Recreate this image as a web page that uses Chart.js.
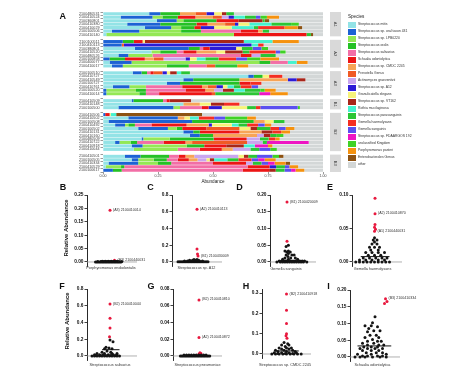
<!DOCTYPE html>
<html>
<head>
<meta charset="utf-8">
<script src="https://cdn.jsdelivr.net/npm/chart.js@4.4.0/dist/chart.umd.min.js"></script>
<style>
  body { margin: 0; background: #fff; font-family: 'Liberation Sans', Arial, sans-serif; }
  #page { position: relative; width: 474px; height: 375px; overflow: hidden; background: #fff; }
  #page canvas, .txt { position: absolute; }
  .txt { white-space: nowrap; color: #222; line-height: 1; }
</style>
</head>
<body>
<div id="page"></div>
<script>
// ---------- Panel A data ----------
const species = [
  'Streptococcus mitis', 'Streptococcus sp. oral taxon 431', 'Streptococcus sp. LPB0220',
  'Streptococcus oralis', 'Streptococcus salivarius', 'Schaalia odontolytica',
  'Streptococcus sp. CMDC 2245', 'Prevotella Genus', 'Actinomyces graevenitzii',
  'Streptococcus sp. A12', 'Granulicatella elegans', 'Streptococcus sp. VT162',
  'Rothia mucilaginosa', 'Streptococcus parasanguinis', 'Gemella haemolysans',
  'Gemella sanguinis', 'Streptococcus sp. FDAARGOS 192', 'unclassified Kingdom',
  'Porphyromonas pasteri', 'Enterobacterales Genus', 'other'
];
const speciesColors = [
  '#93e3e6', '#1c62d4', '#93e855', '#25c125', '#f26ea6', '#ec1515', '#f7a457',
  '#f05a24', '#c9a6ef', '#2c1ad6', '#f7f37a', '#a8261a', '#45f2cf', '#2bc535',
  '#f42e22', '#5a4ff0', '#ee15c3', '#3fd225', '#f5920f', '#8d5212', '#d3d7d7'
];
const OTHER = 20;

const groupNames = ['A1', 'A2', 'A3', 'B1', 'B2', 'B3'];

const samplesA1 = ['2100480531', '2100410524', '2100360801', '2100410380', '2100410029', '2100100506', '2100410140'];
const samplesA2 = ['2100100511', '2100410113', '2100380801', '2100410520', '2100480526', '2100100858', '2100400077', '2100410017'];
const samplesA3 = ['2100100510', '2100410727', '2100410549', '2100100727', '2100410761', '2100100520', '2100410014'];
const samplesB1 = ['2100410509', '2100410148', '2100100500'];
const samplesB2 = ['2100410506', '2100410502', '2100100508', '2100410492', '2100100502', '2100410131', '2100410160', '2100480509', '2100410722', '2100410918', '2100410044'];
const samplesB3 = ['2100410501', '2100100505', '2100410334', '2100410529', '2100100617'];

// each row: [species index, abundance] pairs, the rest is "other"
const rowsA1 = [
  [[0,.21],[1,.05],[3,.09],[6,.07],[7,.05],[9,.035],[10,.035],[11,.02],[13,.035]],
  [[0,.08],[1,.145],[2,.045],[3,.07],[5,.08],[6,.08],[7,.04],[8,.03],[9,.025],[12,.05],[13,.05],[15,.02],[17,.03],[18,.055]],
  [[0,.245],[1,.09],[2,.03],[3,.15],[5,.1],[11,.11],[13,.01],[19,.02]],
  [[0,.11],[1,.15],[3,.165],[5,.05],[6,.08],[7,.045],[9,.015],[10,.05],[12,.1],[13,.09],[17,.035]],
  [[0,.19],[1,.12],[2,.045],[3,.06],[5,.03],[9,.06],[10,.08],[12,.1],[13,.02],[14,.12],[18,.06],[19,.02]],
  [[0,.04],[1,.125],[2,.19],[3,.09],[4,.18],[5,.08],[6,.02],[13,.03]],
  [[0,.015],[2,.58],[5,.33],[13,.02],[19,.01]]
];
const rowsA2 = [
  [[1,.09],[3,.05],[5,.04],[10,.01],[11,.45],[12,.13],[18,.12]],
  [[1,.085],[7,.01],[9,.58],[12,.03],[14,.025]],
  [[0,.145],[1,.245],[3,.05],[4,.015],[5,.03],[9,.12],[10,.025],[13,.05],[15,.04],[17,.03]],
  [[0,.22],[2,.04],[3,.075],[4,.03],[5,.06],[6,.09],[10,.04],[11,.08],[13,.03],[14,.12],[15,.02],[17,.025]],
  [[0,.07],[1,.045],[2,.11],[4,.4],[5,.05],[8,.04],[13,.07]],
  [[1,.03],[3,.07],[5,.09],[6,.04],[7,.045],[8,.1],[9,.02],[10,.03],[12,.04],[13,.06],[14,.08],[15,.05],[17,.06],[18,.085]],
  [[0,.03],[1,.1],[2,.58],[3,.05],[4,.08],[12,.04],[18,.05]],
  [[0,.04],[1,.05],[2,.2],[3,.1],[4,.08],[7,.04],[13,.1],[18,.05]]
];
const rowsA3 = [
  [[0,.135],[1,.04],[3,.025],[4,.015],[5,.015],[7,.04],[9,.02],[10,.015],[11,.03],[12,.02],[13,.04]],
  [[0,.66],[1,.025],[3,.04],[10,.03],[14,.06]],
  [[0,.365],[1,.045],[3,.21],[6,.22],[9,.04],[11,.04]],
  [[0,.29],[1,.06],[3,.27],[5,.05],[14,.05]],
  [[0,.045],[1,.075],[2,.075],[4,.165],[5,.09],[6,.025],[7,.04],[9,.03],[10,.02],[12,.03],[13,.03],[14,.05],[15,.03]],
  [[1,.015],[2,.135],[3,.045],[4,.18],[5,.09],[6,.04],[8,.04],[11,.05],[12,.05],[13,.07],[17,.02],[18,.05]],
  [[1,.015],[2,.15],[3,.03],[4,.06],[5,.24],[7,.015],[13,.2],[16,.05],[18,.08]]
];
const rowsB1 = [
  [[0,.13],[1,.008],[3,.135],[4,.015],[5,.015],[11,.097]],
  [[0,.365],[6,.075],[10,.05],[11,.06],[14,.07]],
  [[0,.07],[1,.25],[2,.03],[4,.1],[5,.03],[9,.06],[10,.115],[13,.04],[14,.02],[15,.17],[17,.01]]
];
const rowsB2 = [
  [[1,.01],[5,.02],[10,.005],[12,.025],[19,.39]],
  [[0,.115],[1,.225],[6,.03],[10,.025],[12,.04],[14,.07],[15,.05],[17,.1],[18,.04]],
  [[0,.025],[1,.38],[3,.28],[6,.05],[10,.04],[13,.05]],
  [[0,.055],[1,.045],[2,.015],[3,.03],[4,.075],[5,.16],[6,.1],[9,.015],[10,.09],[12,.03],[13,.04],[14,.05],[15,.03],[18,.03]],
  [[0,.16],[1,.135],[2,.04],[3,.025],[5,.11],[7,.15],[10,.05],[11,.03],[13,.06],[14,.04],[15,.03],[18,.04]],
  [[0,.365],[1,.045],[3,.03],[5,.18],[6,.1],[11,.05],[14,.04],[18,.04]],
  [[0,.395],[1,.045],[3,.06],[6,.2],[8,.03],[11,.03],[13,.03],[17,.03]],
  [[0,.175],[1,.008],[2,.12],[3,.2],[5,.15],[8,.06],[13,.04],[14,.03],[18,.02]],
  [[0,.055],[1,.02],[2,.05],[3,.03],[4,.12],[5,.1],[6,.03],[7,.25],[8,.07],[13,.02],[16,.19]],
  [[0,.13],[1,.05],[2,.2],[3,.08],[5,.1],[11,.08],[12,.05],[16,.06],[18,.02]],
  [[0,.14],[2,.2],[4,.1],[5,.1],[6,.05],[8,.08],[13,.04],[15,.05],[17,.03]]
];
const rowsB3 = [
  [[0,.1],[1,.07],[3,.13],[4,.045],[5,.03],[6,.04],[8,.2],[10,.025],[11,.02],[13,.04],[15,.07],[17,.03],[19,.02]],
  [[0,.13],[1,.03],[2,.07],[3,.06],[4,.05],[5,.05],[6,.04],[8,.04],[10,.015],[11,.02],[12,.06],[13,.05],[14,.06],[15,.03],[16,.03],[18,.05]],
  [[0,.025],[1,.135],[2,.09],[3,.06],[4,.19],[5,.15],[8,.03],[13,.04],[15,.03],[16,.03],[18,.05],[19,.02]],
  [[0,.012],[2,.07],[3,.015],[4,.56],[5,.1],[9,.03],[13,.04],[15,.02],[18,.04]],
  [[1,.045],[3,.04],[4,.55],[5,.12],[11,.03],[13,.04],[15,.03],[16,.02],[18,.04]]
];
const abundanceTicks = [0, 0.25, 0.5, 0.75, 1];

// ---------- Panels B-I data: [x jitter, relative abundance] ----------
const dotSpecies = ['Porphyromonas endodontalis', 'Streptococcus sp. A12', 'Gemella sanguinis', 'Gemella haemolysans',
  'Streptococcus salivarius', 'Streptococcus pneumoniae', 'Streptococcus sp. CMDC 2245', 'Schaalia odontolytica'];

const ticksB = ['0.00', '0.05', '0.10', '0.15', '0.20', '0.25'];
const blackB = [[-0.66,0],[-0.60,0],[-0.54,0],[-0.48,0],[-0.42,0],[-0.36,0],[-0.30,0],[-0.24,0],[-0.18,0],[-0.12,0],[-0.06,0],[0,0],[0.06,0],[0.12,0],[0.18,0],[0.24,0],[0.30,0],[0.36,0],
  [-0.57,.0015],[-0.45,.0015],[-0.33,.0015],[-0.21,.0015],[-0.09,.0015],[0.03,.0015],[0.15,.0015],[0.27,.0015],[0.39,.0015],
  [-0.39,.003],[-0.27,.003],[-0.15,.003],[-0.03,.003],[0.09,.003],[0.21,.003]];
const redB = [[-0.08,.193,'(A3) 2100410014'],[0.1,.006,'(A3) 2100440031']];
const medianB = [0, -0.62, 0.42];

const ticksC = ['0.0', '0.2', '0.4', '0.6', '0.8'];
const blackC = [[-0.76,.003],[-0.70,.003],[-0.64,.003],[-0.58,.003],[-0.52,.003],[-0.46,.003],[-0.40,.003],[-0.34,.003],[-0.28,.003],[-0.22,.003],[-0.16,.003],[-0.10,.003],[-0.04,.003],[0.02,.003],[0.08,.003],[0.14,.003],[0.20,.003],[0.26,.003],[0.32,.003],[0.38,.003],[0.44,.003],
  [-0.5,.012],[-0.38,.012],[-0.26,.012],[-0.14,.012],[-0.02,.012],[0.1,.012],[0.22,.012],
  [-0.3,.022],[-0.18,.022],[-0.06,.022],[0.06,.022],[-0.12,.03],[0,.03]];
const redC = [[0,.63,'(A2) 2100410113'],[0,.155,''],[0.02,.095,''],[0.04,.07,'(B1) 2100430009']];
const medianC = [0.005, -0.7, 0.4];

const ticksD = ['0.00', '0.05', '0.10', '0.15', '0.20'];
const blackD = [[-0.2,.05],[-0.3,.046],[-0.35,.033],[-0.2,.033],[-0.27,.03],[-0.12,.03],[-0.2,.025],[-0.3,.021],[-0.05,.021],[0.05,.021],[-0.22,.016],
  [-0.35,.012],[-0.1,.012],[0.1,.012],[-0.45,.008],[-0.2,.008],[0.2,.008],
  [-0.6,.003],[-0.5,.003],[-0.4,.003],[-0.3,.003],[-0.2,.003],[-0.1,.003],[0,.003],[0.1,.003],[0.2,.003],[0.3,.003],[0.4,.003],[0.5,.003],
  [-0.7,0],[-0.55,0],[-0.45,0],[-0.35,0],[-0.25,0],[-0.15,0],[-0.05,0],[0.05,0],[0.15,0],[0.25,0],[0.35,0],[0.45,0],[0.6,0]];
const redD = [[-0.26,.179,'(B1) 2100420009'],[-0.26,.062,'']];
const medianD = [0.003, -0.55, 0.55];

const ticksE = ['0.00', '0.05', '0.10'];
const blackE = [[-0.1,.036],[-0.15,.033],[0,.033],[-0.1,.03],[-0.2,.027],[0,.027],[-0.3,.022],[-0.1,.022],[0.1,.022],[-0.25,.018],[0.05,.018],
  [-0.45,.014],[-0.2,.014],[0.05,.014],[0.3,.014],[-0.35,.01],[-0.1,.01],[0.15,.01],
  [-0.55,.006],[-0.3,.006],[-0.05,.006],[0.2,.006],[0.4,.006],[-0.7,.003],[-0.45,.003],[-0.2,.003],[0.05,.003],[0.3,.003],
  [-0.85,0],[-0.7,0],[-0.55,0],[-0.4,0],[-0.25,0],[-0.1,0],[0.05,0],[0.2,0],[0.35,0],[0.5,0]];
const redE = [[-0.08,.095,''],[-0.08,.072,'(A2) 2100410870'],[-0.08,.056,''],[-0.1,.052,''],[-0.06,.049,''],[-0.1,.046,'(A1) 2100440031']];
const medianE = [0.008, -0.65, 0.5];

const ticksF = ['0.0', '0.2', '0.4', '0.6', '0.8'];
const blackF = [[-0.08,.19],[0.04,.17],[-0.24,.105],[-0.12,.095],[-0.3,.085],[0,.085],[-0.2,.06],[-0.4,.045],[-0.05,.045],
  [-0.6,.03],[-0.3,.03],[0,.03],[0.2,.03],[-0.7,.015],[-0.5,.015],[-0.35,.015],[-0.15,.015],[0.05,.015],[0.2,.015],
  [-0.65,.007],[-0.45,.007],[-0.25,.007],[-0.05,.007],[0.15,.007],
  [-0.8,0],[-0.7,0],[-0.6,0],[-0.5,0],[-0.4,0],[-0.3,0],[-0.2,0],[-0.1,0],[0,0],[0.1,0],[0.2,0],[0.3,0]];
const redF = [[-0.08,.62,'(B2) 2100410044'],[-0.08,.45,''],[-0.08,.335,''],[-0.1,.23,'']];
const medianF = [0.075, -0.4, 0.3];

const ticksG = ['0.00', '0.02', '0.04', '0.06', '0.08'];
const blackG = [[-0.70,0],[-0.64,0],[-0.58,0],[-0.52,0],[-0.46,0],[-0.40,0],[-0.34,0],[-0.28,0],[-0.22,0],[-0.16,0],[-0.10,0],[-0.04,0],[0.02,0],[0.08,0],[0.14,0],[0.20,0],[0.26,0],[0.32,0],[0.38,0],[0.44,0],[0.50,0],
  [-0.55,.0012],[-0.45,.0012],[-0.35,.0012],[-0.25,.0012],[-0.15,.0012],[-0.05,.0012],[0.05,.0012],[0.15,.0012],[0.25,.0012],[0.35,.0012]];
const redG = [[0.06,.067,'(B2) 2100410810'],[0.06,.022,'(A2) 2100410872'],[0.1,.004,''],[0.14,.003,''],[0.06,.0025,''],[0.12,.0015,'']];
const medianG = [0, -0.6, 0.45];

const ticksH = ['0.0', '0.1', '0.2', '0.3'];
const blackH = [[-0.1,.056],[0.05,.05],[-0.2,.044],[0.1,.044],[-0.05,.037],[-0.3,.03],[0,.03],[0.2,.03],[-0.2,.024],[0.1,.024],
  [-0.45,.018],[-0.1,.018],[0.25,.018],[-0.35,.012],[0,.012],[0.35,.012],[-0.5,.006],[-0.2,.006],[0.1,.006],[0.4,.006],
  [-0.35,.003],[-0.05,.003],[0.25,.003],
  [-0.6,0],[-0.45,0],[-0.3,0],[-0.15,0],[0,0],[0.15,0],[0.3,0],[0.45,0],[0.6,0]];
const redH = [[0,.295,'(B2) 2100410918'],[0,.215,''],[0,.15,''],[0,.10,''],[-0.02,.09,''],[0.02,.078,'']];
const medianH = [0.015, -0.5, 0.5];

const ticksI = ['0.00', '0.05', '0.10', '0.15', '0.20'];
const blackI = [[0,.12],[-0.1,.102],[-0.4,.093],[-0.15,.093],[0.1,.09],[-0.25,.085],[-0.05,.078],[0.2,.078],[-0.3,.075],
  [-0.2,.065],[0.05,.065],[-0.4,.058],[0.15,.058],[-0.1,.052],[-0.3,.047],[0.1,.047],[0.25,.047],[-0.5,.041],[-0.05,.041],
  [-0.3,.036],[0.15,.036],[0.35,.036],[-0.45,.03],[-0.15,.03],[0.1,.03],[-0.6,.025],[-0.3,.025],[0,.025],[0.3,.025],
  [-0.5,.019],[-0.15,.019],[0.15,.019],[-0.35,.013],[0.05,.013],[0.3,.013],[-0.7,.008],[-0.15,.008],[0.45,.008],
  [-0.5,.003],[-0.3,.003],[0.1,.003],[0.3,.003],[-0.8,0],[-0.6,0],[-0.4,0],[-0.1,0],[0.2,0],[0.45,0]];
const redI = [[0.42,.174,'(B3) 2100410334'],[0.48,.166,''],[0.38,.16,'']];
const medianI = [0.033, -0.7, 0.65];

// ---------- layout ----------
const page = document.getElementById('page');
const FONT = "'Liberation Sans', Arial, sans-serif";
Chart.defaults.font.family = FONT;

function addText(text, x, y, css) {
  const d = document.createElement('div');
  d.className = 'txt';
  d.textContent = text;
  d.style.cssText = css || '';
  d.style.left = x + 'px';
  d.style.top = y + 'px';
  page.appendChild(d);
  return d;
}
function addCanvas(left, top, w, h) {
  const c = document.createElement('canvas');
  c.width = w; c.height = h;
  c.style.left = left + 'px'; c.style.top = top + 'px';
  c.style.width = w + 'px'; c.style.height = h + 'px';
  page.appendChild(c);
  return c;
}

/**
 * PANEL A - stacked composition bars
 */
const groupSamples = [samplesA1, samplesA2, samplesA3, samplesB1, samplesB2, samplesB3];
const groupRows = [rowsA1, rowsA2, rowsA3, rowsB1, rowsB2, rowsB3];

const labelsA = [], rowsA = [], groupStart = [];
groupSamples.forEach((g, gi) => {
  if (gi > 0) { labelsA.push(''); rowsA.push(null); }   // gap between facets
  groupStart.push(labelsA.length);
  g.forEach((id, k) => { labelsA.push(id); rowsA.push(groupRows[gi][k]); });
});

const shareOf = (row, s) => {
  const p = row.find(q => q[0] === s);
  return p ? p[1] : 0;
};
const datasetsA = species.map((name, s) => ({
  label: name,
  data: rowsA.map(r => {
    if (r === null) return null;
    if (s === OTHER) return Math.max(0, 1 - r.reduce((a, q) => a + q[1], 0));
    return shareOf(r, s);
  }),
  backgroundColor: speciesColors[s],
  borderWidth: 0,
  barPercentage: 0.88,
  categoryPercentage: 1
}));

const facetStrips = {
  id: 'facetStrips',
  afterDraw(chart) {
    const { ctx, chartArea } = chart;
    const y = chart.scales.y;
    const step = y.getPixelForValue(1) - y.getPixelForValue(0);
    ctx.save();
    groupNames.forEach((name, gi) => {
      const first = groupStart[gi];
      const last = first + groupSamples[gi].length - 1;
      const top = y.getPixelForValue(first) - step / 2;
      const bottom = y.getPixelForValue(last) + step / 2;
      const x0 = chartArea.right + 7;
      ctx.fillStyle = '#d9d9d9';
      ctx.fillRect(x0, top, 11, bottom - top);
      ctx.save();
      ctx.translate(x0 + 5.5, (top + bottom) / 2);
      ctx.rotate(Math.PI / 2);
      ctx.fillStyle = '#333';
      ctx.font = '4px ' + FONT;
      ctx.textAlign = 'center';
      ctx.textBaseline = 'middle';
      ctx.fillText(name, 0, 0);
      ctx.restore();
    });
    ctx.restore();
  }
};

new Chart(addCanvas(50, 5, 300, 180), {
  type: 'bar',
  data: { labels: labelsA, datasets: datasetsA },
  options: {
    indexAxis: 'y',
    responsive: false,
    animation: false,
    events: [],
    layout: { padding: { top: 7, right: 27, left: 0, bottom: 0 }, autoPadding: false },
    plugins: { legend: { display: false }, tooltip: { enabled: false } },
    scales: {
      x: {
        stacked: true, min: 0, max: 1,
        afterFit: s => { s.height = 13; },
        afterBuildTicks: s => { s.ticks = abundanceTicks.map(v => ({ value: v })); },
        grid: { drawOnChartArea: false, tickLength: 2, color: '#555', lineWidth: 0.6 },
        border: { display: false },
        ticks: { font: { size: 3.6 }, color: '#444', padding: 0, maxRotation: 0, callback: v => v.toFixed(2) },
        title: { display: true, text: 'Abundance', font: { size: 4.6 }, color: '#222', padding: { top: 0, bottom: 1 } }
      },
      y: {
        stacked: true,
        afterFit: s => { s.width = 53; },
        grid: {
          drawOnChartArea: false, tickLength: 2.5, lineWidth: 0.6,
          color: c => (c.tick && c.tick.label === '') ? 'rgba(0,0,0,0)' : '#555'
        },
        border: { display: false },
        ticks: { autoSkip: false, font: { size: 3.7 }, color: '#444', padding: 1 }
      }
    }
  },
  plugins: [facetStrips]
});

// legend
addText('Species', 348, 14.5, 'font-size:4.6px;color:#222;');
species.forEach((name, i) => {
  const key = document.createElement('div');
  key.style.cssText = `position:absolute;left:348px;top:${21.8 + i * 7}px;width:7.5px;height:6.2px;background:${speciesColors[i]};`;
  page.appendChild(key);
  addText(name, 358, 23.2 + i * 7, 'font-size:3.4px;color:#333;');
});

addText('A', 59.5, 11.5, 'font-size:9px;font-weight:bold;color:#111;');

/**
 * PANELS B-I - per-sample dot plots
 */
const dotPanels = [
  { letter: 'B', box: [87, 137, 195, 266], yMin: -0.015, yMax: 0.25, ticks: ticksB, black: blackB, red: redB, median: medianB, letterAt: [63, 187], nameAt: [111, 269], title: [66, 228] },
  { letter: 'C', box: [172, 222, 195, 266], yMin: -0.048, yMax: 0.8, ticks: ticksC, black: blackC, red: redC, median: medianC, letterAt: [150.5, 187], nameAt: [196.5, 269] },
  { letter: 'D', box: [270, 316, 195, 266], yMin: -0.012, yMax: 0.2, ticks: ticksD, black: blackD, red: redD, median: medianD, letterAt: [239.5, 187], nameAt: [286, 270] },
  { letter: 'E', box: [352, 402, 195, 266], yMin: -0.006, yMax: 0.1, ticks: ticksE, black: blackE, red: redE, median: medianE, letterAt: [330, 187], nameAt: [372.5, 270] },
  { letter: 'F', box: [87, 137, 289, 360], yMin: -0.048, yMax: 0.8, ticks: ticksF, black: blackF, red: redF, median: medianF, letterAt: [62, 285.5], nameAt: [110, 366], title: [67, 321] },
  { letter: 'G', box: [173, 222, 289, 360], yMin: -0.0048, yMax: 0.08, ticks: ticksG, black: blackG, red: redG, median: medianG, letterAt: [151, 285.5], nameAt: [197.5, 366] },
  { letter: 'H', box: [262, 311, 289, 358], yMin: -0.0197, yMax: 0.32, ticks: ticksH, black: blackH, red: redH, median: medianH, letterAt: [246, 285.5], nameAt: [285, 366] },
  { letter: 'I', box: [350, 400, 290, 361], yMin: -0.012, yMax: 0.2, ticks: ticksI, black: blackI, red: redI, median: medianI, letterAt: [328.5, 285.5], nameAt: [372.5, 366] }
];

const AXIS_W = 30, PAD_T = 8, PAD_B = 4, PAD_R = 34;

const dotExtras = (red) => ({
  id: 'dotExtras',
  beforeDatasetsDraw(chart) {
    const { ctx, chartArea } = chart;
    const y0 = chart.scales.y.getPixelForValue(0);
    ctx.save();
    ctx.strokeStyle = '#9c9c9c';
    ctx.lineWidth = 0.8;
    ctx.beginPath();
    ctx.moveTo(chartArea.left, y0);
    ctx.lineTo(chartArea.right, y0);
    ctx.stroke();
    ctx.restore();
  },
  afterDatasetsDraw(chart) {
    const { ctx } = chart;
    const { x, y } = chart.scales;
    ctx.save();
    ctx.fillStyle = '#333';
    ctx.font = '3.6px ' + FONT;
    ctx.textBaseline = 'middle';
    red.forEach(p => {
      if (!p[2]) return;
      ctx.fillText(p[2], x.getPixelForValue(p[0]) + 3, y.getPixelForValue(p[1]) - 0.5);
    });
    ctx.restore();
  }
});

dotPanels.forEach((p, i) => {
  const [l, r, t, b] = p.box;
  const canvas = addCanvas(l - AXIS_W, t - PAD_T, (r - l) + AXIS_W + PAD_R, (b - t) + PAD_T + PAD_B);
  const m = p.median;
  new Chart(canvas, {
    type: 'scatter',
    data: {
      datasets: [
        { type: 'line', data: [{ x: m[1], y: m[0] }, { x: m[2], y: m[0] }], borderColor: '#111', borderWidth: 1, pointRadius: 0 },
        { data: p.black.map(q => ({ x: q[0], y: q[1] })), backgroundColor: '#141414', pointRadius: 1.5, borderWidth: 0 },
        { data: p.red.map(q => ({ x: q[0], y: q[1] })), backgroundColor: '#e8183e', pointRadius: 1.5, borderWidth: 0 }
      ]
    },
    options: {
      responsive: false,
      animation: false,
      events: [],
      layout: { padding: { top: PAD_T, bottom: PAD_B, left: 0, right: PAD_R }, autoPadding: false },
      plugins: { legend: { display: false }, tooltip: { enabled: false } },
      scales: {
        x: { type: 'linear', min: -1, max: 1, display: false },
        y: {
          min: p.yMin, max: p.yMax,
          afterFit: s => { s.width = AXIS_W; },
          afterBuildTicks: s => { s.ticks = p.ticks.map(v => ({ value: parseFloat(v) })); },
          ticks: { autoSkip: false, callback: (v, k) => p.ticks[k], font: { size: 4.8, weight: 'bold' }, color: '#111', padding: 1 },
          grid: { drawOnChartArea: false, tickLength: 2.5, color: '#111', lineWidth: 0.8 },
          border: { color: '#111', width: 0.9 }
        }
      }
    },
    plugins: [dotExtras(p.red)]
  });

  addText(p.letter, p.letterAt[0], p.letterAt[1], 'font-size:9px;font-weight:bold;color:#111;transform:translate(-50%,-50%);');
  addText(dotSpecies[i], p.nameAt[0], p.nameAt[1], 'font-size:3.8px;color:#333;transform:translate(-50%,-50%);');
  if (p.title) {
    addText('Relative Abundance', p.title[0], p.title[1], 'font-size:6px;font-weight:bold;color:#111;transform:translate(-50%,-50%) rotate(-90deg);');
  }
});
</script>
</body>
</html>
